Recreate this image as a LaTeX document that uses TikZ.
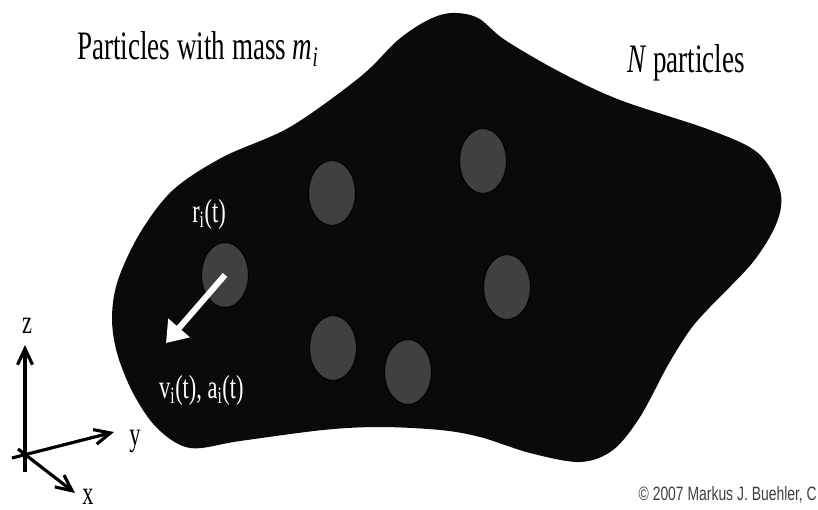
\documentclass[tikz,border=0pt]{standalone}
\usepackage{fontspec}
\setmainfont{Liberation Serif}
\newfontfamily\creditfont{Liberation Sans}
\usetikzlibrary{arrows.meta, shapes.geometric}

\begin{document}
\begin{tikzpicture}[x=0.02cm, y=-0.02cm,
    particle/.style={ellipse, draw=black, line width=0.6pt, fill=black!75,
                     minimum width=0.94cm, minimum height=1.3cm, inner sep=0pt},
    axis/.style={line width=1.8pt,
                 -{Straight Barb[length=3.2mm, width=3mm]}},
    bigtext/.style={font=\fontsize{23}{27}\selectfont, xscale=0.67},
    label/.style={font=\fontsize{19}{23}\selectfont, xscale=0.67}]

  %% ── Frame ──────────────────────────────────────────────────
  \useasboundingbox (0,0) rectangle (818,510);

  %% ── Body of the system ─────────────────────────────────────
  \fill[black!96] plot[smooth cycle, tension=0.55] coordinates {
    (452,13) (478,18) (505,40) (560,72) (620,100) (710,130) (758,153)
    (780,190) (777,222) (753,262) (710,307) (690,330) (668,365)
    (640,417) (613,450) (580,462) (530,453) (480,437) (440,430)
    (380,427) (323,430) (240,441) (190,448) (157,428) (133,393)
    (117,353) (112,317) (118,280) (140,233) (173,190) (223,157)
    (290,127) (360,77) (398,40) (428,20)};

  %% ── Particles ──────────────────────────────────────────────
  \node[particle] (p0) at (225,275) {};
  \node[particle] (p1) at (332,193) {};
  \node[particle] (p2) at (483,161) {};
  \node[particle] (p3) at (507,287) {};
  \node[particle] (p4) at (333,348) {};
  \node[particle] (p5) at (408,372) {};

  % velocity arrow of particle i
  \coordinate (vtip) at (166,343);
  \draw[white, line width=3.4pt,
        -{Triangle[length=4mm, width=5.5mm]}] (p0.center) -- (vtip);

  \node[label, text=white, anchor=base] (rlab) at (209,222)
    {r\textsubscript{i}(t)};
  \node[label, text=white, anchor=base west] (vlab) at (155,398)
    {v\textsubscript{i}(t), a\textsubscript{i}(t)};

  %% ── Captions ───────────────────────────────────────────────
  \node[bigtext, anchor=base west] (mass) at (73,60)
    {Particles with mass \textit{m\textsubscript{i}}};
  \node[bigtext, anchor=base west] (count) at (623,73)
    {\textit{N} particles};

  %% ── Axes ───────────────────────────────────────────────────
  \coordinate (o) at (25,455);
  \coordinate (zs) at (25,472);
  \coordinate (ze) at (25,345);
  \coordinate (ys) at (12,458);
  \coordinate (ye) at (114,432);
  \coordinate (xs) at (18,449);
  \coordinate (xe) at (75,493);
  \draw[axis] (zs) -- (ze);
  \draw[axis] (ys) -- (ye);
  \draw[axis] (xs) -- (xe);
  \node[label, anchor=base] (zlab) at (27,333) {z};
  \node[label, anchor=base] (ylab) at (135,445) {y};
  \node[label, anchor=base] (xlab) at (88,504) {x};

  %% ── Credit ─────────────────────────────────────────────────
  \node[font=\creditfont\fontsize{11}{13}\selectfont, text=black!75,
        xscale=0.72, anchor=base east, inner sep=0pt] (credit) at (817,500)
    {© 2007 Markus J. Buehler, C};

\end{tikzpicture}
\end{document}
